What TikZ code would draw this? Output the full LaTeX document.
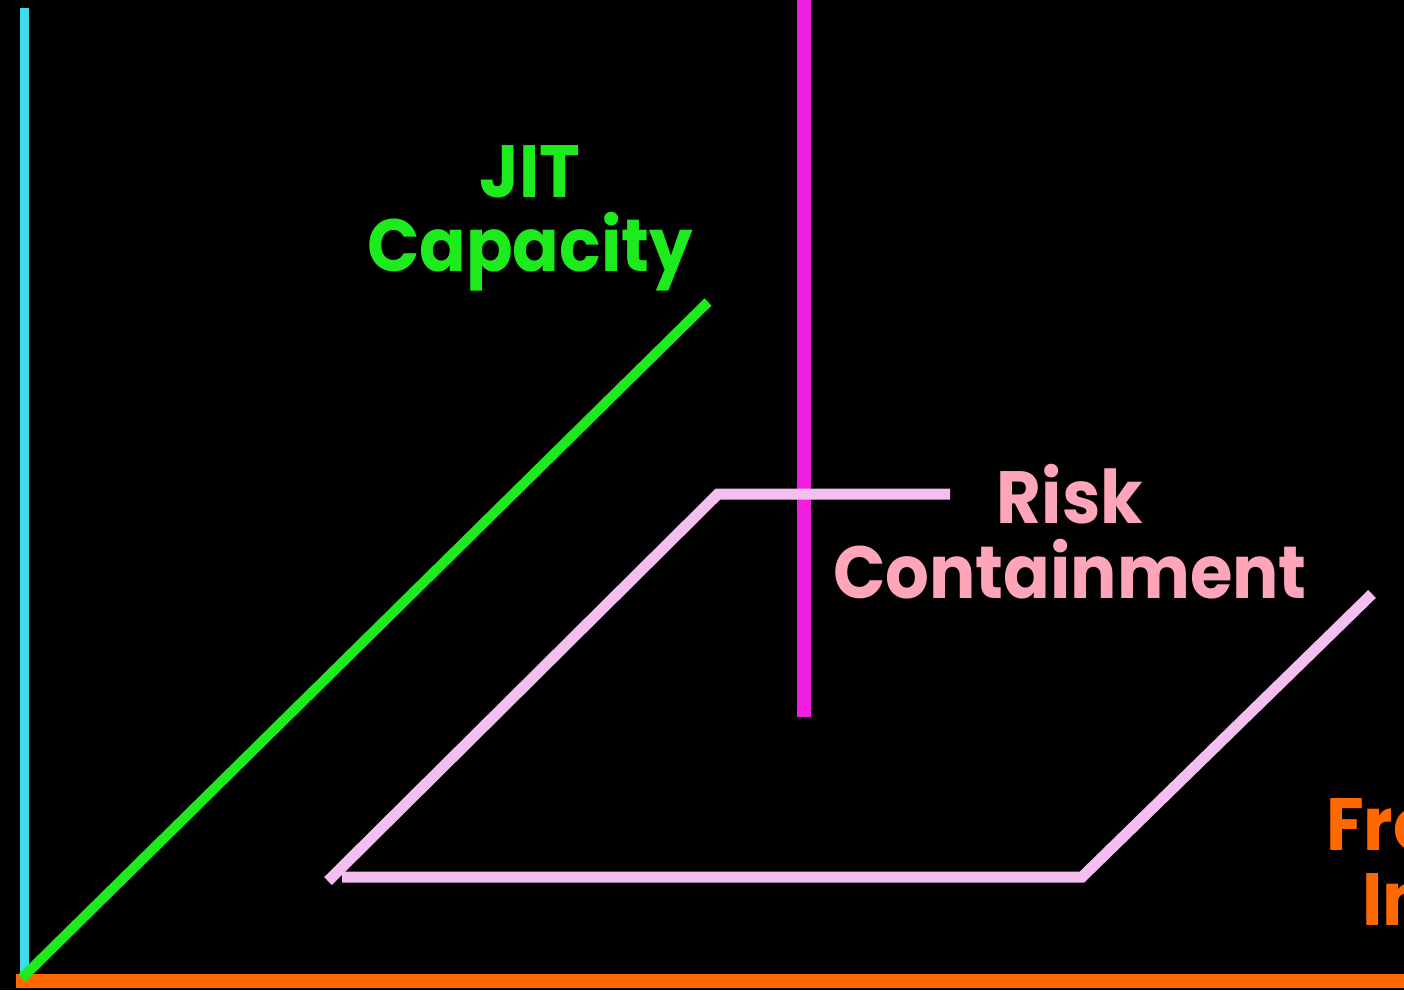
\documentclass[tikz,border=0pt]{standalone}
\usepackage{fontspec}
\setmainfont{Poppins}[FakeStretch=0.93]
\usepackage{tikz}
\usetikzlibrary{positioning}

\definecolor{axiscyan}{RGB}{60,220,235}
\definecolor{axisorange}{RGB}{255,105,0}
\definecolor{jitgreen}{RGB}{30,235,30}
\definecolor{riskmagenta}{RGB}{240,30,225}
\definecolor{planepink}{RGB}{245,190,240}
\definecolor{textpink}{RGB}{255,165,185}

\begin{document}
\begin{tikzpicture}[x=1pt,y=-1pt,line cap=butt,
    axis/.style={line width=#1},
    label/.style={inner sep=0pt,font=\bfseries\fontsize{74}{76}\selectfont,align=center}]

\fill[black] (0,0) rectangle (1404,990);
\useasboundingbox (0,0) rectangle (1404,990);

% axes
\draw[axis=9, axiscyan] (24,8) -- (24,976);
\draw[axis=14, axisorange] (16,981) -- (1410,981);
\draw[axis=10, jitgreen] (22,978) -- (708,302);
\draw[axis=14, riskmagenta] (804,-2) -- (804,717);

% risk plane
\draw[axis=11, planepink, line join=miter] (950,494) -- (718,494) -- (328,881);
\draw[axis=11, planepink, line join=miter] (342,877) -- (1082,877) -- (1372,594);

% labels
\node[label, text=jitgreen] (jit) at (530,218) {JIT\\[-2pt]Capacity};
\node[label, text=textpink] (risk) at (1070,532) {Risk\\[-1pt]Containment};
\node[label, text=axisorange, anchor=base west] (frm) at (1326,850) {From};
\node[label, text=axisorange, anchor=base west] (inv) at (1362,925) {Inventory};

\end{tikzpicture}
\end{document}
